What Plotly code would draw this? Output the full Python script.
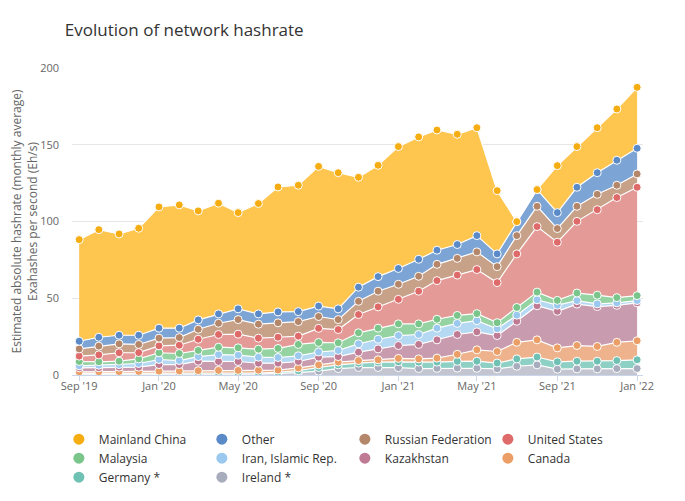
import plotly.graph_objects as go

# monthly points, Sep 2019 - Jan 2022
months = [
    "2019-09-01", "2019-10-01", "2019-11-01", "2019-12-01",
    "2020-01-01", "2020-02-01", "2020-03-01", "2020-04-01", "2020-05-01", "2020-06-01",
    "2020-07-01", "2020-08-01", "2020-09-01", "2020-10-01", "2020-11-01", "2020-12-01",
    "2021-01-01", "2021-02-01", "2021-03-01", "2021-04-01", "2021-05-01", "2021-06-01",
    "2021-07-01", "2021-08-01", "2021-09-01", "2021-10-01", "2021-11-01", "2021-12-01",
    "2022-01-01",
]

# hashrate per country, EH/s
ireland = [0.5, 0.5, 0.5, 0.5, 0.5, 0.5, 0.5, 0.6, 0.6, 0.6, 1.0, 1.5, 2.5, 4.2, 4.9, 4.9,
           4.8, 4.2, 4.3, 4.5, 4.4, 4.0, 5.7, 6.6, 3.8, 4.0, 4.0, 4.2, 4.2]
germany = [0.5, 0.5, 0.5, 0.5, 0.6, 0.6, 0.7, 0.6, 0.6, 0.7, 0.8, 1.3, 2.4, 2.4, 2.8, 3.5,
           3.8, 4.2, 4.1, 4.4, 4.6, 3.8, 4.8, 5.1, 4.8, 5.0, 5.0, 5.2, 5.7]
canada = [1.0, 1.1, 1.2, 1.3, 1.4, 1.5, 1.6, 1.8, 1.8, 1.8, 1.4, 1.8, 1.7, 1.8, 1.7, 1.5,
          2.2, 2.1, 2.6, 4.6, 7.4, 7.5, 10.8, 11.2, 9.1, 10.2, 9.6, 11.9, 12.4]
kazakhstan = [2.7, 2.6, 2.9, 2.8, 4.3, 4.2, 6.2, 5.8, 5.8, 4.6, 4.5, 4.2, 5.0, 3.6, 5.5, 7.1,
              8.4, 9.4, 11.9, 12.9, 11.7, 10.4, 13.7, 22.2, 23.8, 27.0, 26.0, 24.1, 24.7]
iran = [1.3, 1.7, 1.7, 2.4, 3.3, 2.6, 3.0, 4.5, 4.1, 3.9, 3.7, 3.7, 3.4, 4.0, 5.4, 6.3,
        6.5, 6.5, 7.6, 7.2, 7.3, 4.4, 4.0, 3.9, 4.0, 2.3, 1.7, 1.6, 1.5]
malaysia = [2.8, 2.2, 2.2, 3.0, 4.4, 4.6, 4.0, 4.8, 4.8, 5.2, 5.9, 7.4, 6.2, 5.0, 7.2, 7.2,
            7.6, 6.9, 5.8, 5.2, 4.6, 4.0, 5.0, 5.0, 3.1, 4.9, 5.7, 3.4, 3.2]
united_states = [3.5, 4.5, 5.5, 4.1, 4.5, 5.4, 7.3, 8.3, 8.9, 7.2, 7.3, 5.4, 9.2, 8.6, 11.9, 13.9,
                 16.0, 21.3, 25.2, 26.3, 28.7, 26.1, 34.9, 42.7, 37.9, 46.7, 55.7, 65.2, 70.6]
russia = [4.7, 5.7, 5.8, 5.3, 5.0, 5.0, 6.5, 7.3, 9.5, 9.1, 9.4, 9.5, 7.7, 6.5, 8.6, 10.2,
          9.8, 9.7, 10.6, 10.9, 11.5, 10.4, 11.9, 13.2, 8.9, 9.8, 10.0, 8.0, 8.7]
other = [5.0, 5.8, 5.6, 6.0, 6.5, 6.1, 6.1, 6.1, 7.0, 6.7, 7.1, 6.5, 6.8, 7.0, 9.2, 9.5,
         10.3, 11.1, 9.2, 9.0, 10.6, 8.3, 9.1, 10.9, 10.4, 12.4, 14.1, 16.3, 16.7]
china = [66.2, 70.1, 66.0, 69.7, 79.0, 80.3, 71.0, 72.1, 62.7, 71.9, 81.4, 82.3, 91.0, 88.7, 71.6, 72.5,
         79.4, 79.7, 78.3, 71.8, 70.3, 41.2, 0.0, 0.0, 30.6, 26.5, 29.3, 33.4, 39.7]

tick_dates = ["2019-09-01", "2020-01-01", "2020-05-01", "2020-09-01",
              "2021-01-01", "2021-05-01", "2021-09-01", "2022-01-01"]
tick_labels = ["Sep '19", "Jan '20", "May '20", "Sep '20",
               "Jan '21", "May '21", "Sep '21", "Jan '22"]

# bottom of the stack first; legend rank gives the legend order
series = [
    ("Ireland *", ireland, "#a8adbd", "#c3c6d1", 10),
    ("Germany *", germany, "#6fc1b3", "#8fd0c5", 9),
    ("Canada", canada, "#eb9f66", "#eeb38c", 8),
    ("Kazakhstan", kazakhstan, "#bf7a94", "#c99bae", 7),
    ("Iran, Islamic Rep.", iran, "#9ac8ee", "#b5d8f3", 6),
    ("Malaysia", malaysia, "#79c58a", "#95d3a2", 5),
    ("United States", united_states, "#de6a6a", "#e49b97", 4),
    ("Russian Federation", russia, "#b4866a", "#c8a189", 3),
    ("Other", other, "#5a8ac8", "#7ca4d5", 2),
    ("Mainland China", china, "#f5ad12", "#fec54f", 1),
]

fig = go.Figure()
for name, vals, mcol, fcol, rank in series:
    fig.add_trace(go.Scatter(
        x=months, y=vals, name=name, stackgroup="one",
        mode="lines+markers",
        line=dict(color="white", width=1.2),
        fillcolor=fcol,
        marker=dict(color=mcol, size=8, line=dict(color="white", width=1)),
        legendgroup=name, showlegend=False,
    ))
    # legend-only circle entry
    fig.add_trace(go.Scatter(
        x=[None], y=[None], name=name, mode="markers",
        marker=dict(color=mcol, size=11),
        legendgroup=name, legendrank=rank, showlegend=True,
    ))

# page body adds an 8px margin, so the figure is 16px smaller than the window
fig.update_layout(
    width=669, height=485,
    paper_bgcolor="white", plot_bgcolor="white",
    font=dict(family="Open Sans, sans-serif", color="#333333"),
    title=dict(text="Evolution of network hashrate", x=0.085, xanchor="left",
               y=0.955, yanchor="middle", font=dict(size=17, color="#333333")),
    margin=dict(l=64, r=34, t=60, b=118, autoexpand=False),
    showlegend=True,
    legend=dict(orientation="h", x=-0.023, xanchor="left", y=-0.162, yanchor="top",
                entrywidth=98, font=dict(size=12, color="#333333"),
                itemsizing="trace", tracegroupgap=0),
)
fig.update_xaxes(
    type="date", range=["2019-08-21", "2022-01-10"], automargin=False,
    tickvals=tick_dates, ticktext=tick_labels,
    showgrid=False, showline=True, linecolor="#ccd6eb", linewidth=1,
    ticks="outside", ticklen=5, tickcolor="#ccd6eb", ticklabelstandoff=-4,
    tickfont=dict(size=11, color="#666666"),
)
fig.update_yaxes(
    range=[0, 200], tickvals=[0, 50, 100, 150, 200], automargin=False,
    showgrid=True, gridcolor="#e6e6e6", zeroline=False,
    tickfont=dict(size=11, color="#666666"), ticks="", ticklabelstandoff=12,
    title=dict(text="Estimated absolute hashrate (monthly average)<br>Exahashes per second (Eh/s)",
               font=dict(size=12, color="#666666"), standoff=4),
)

fig.write_html("out.html")
